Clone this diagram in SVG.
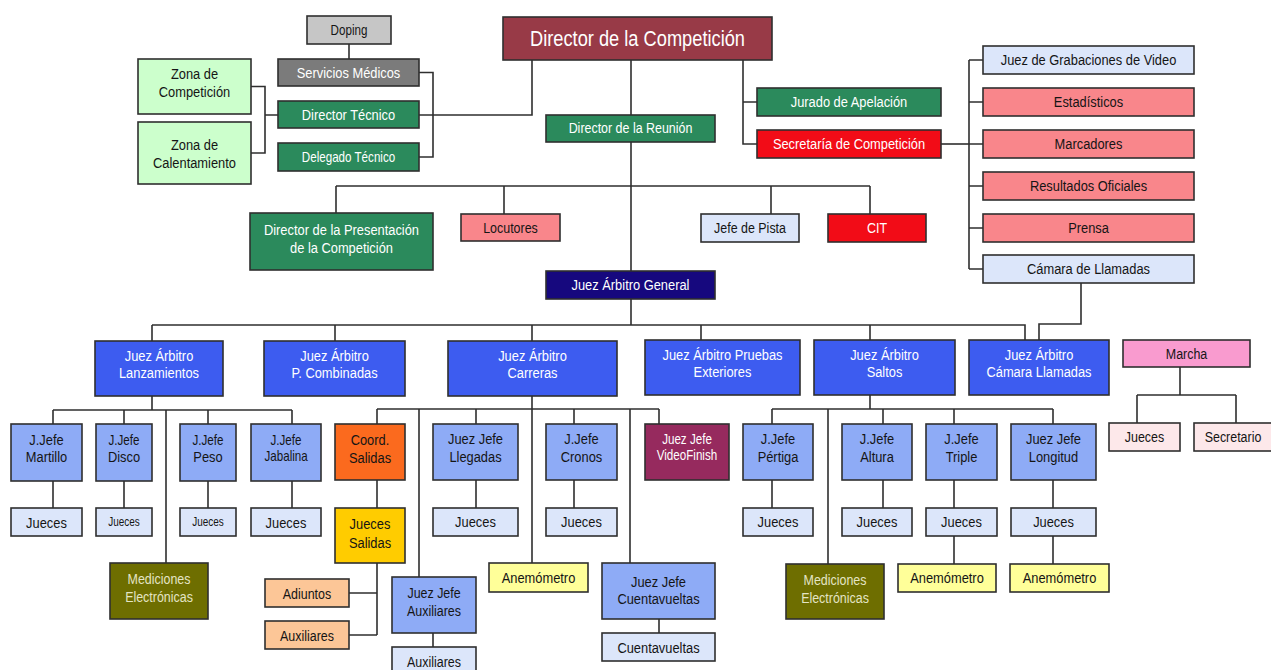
<svg xmlns="http://www.w3.org/2000/svg" width="1271" height="670" viewBox="0 0 1271 670">
<style>
  rect { stroke: #2f2f2f; stroke-width: 1.6; }
  rect.bg { stroke: none; fill: #ffffff; }
  text { font-family: "Liberation Sans", Arial, sans-serif; font-size: 15.5px; text-anchor: middle; dominant-baseline: central; fill: #151515; transform-box: fill-box; transform-origin: center; transform: scaleX(0.83); }
  .w { fill: #ffffff; }
  .lt { fill: #e4e4c4; }
  .s15 { font-size: 15px; }
  .s14 { font-size: 14px; }
  .s12 { font-size: 12px; }
  .big { font-size: 22px; }
  .gray { fill: #c6c6c6; }
  .dgray { fill: #7b7b7b; }
  .green { fill: #2b8a5c; }
  .lgreen { fill: #ccffcc; }
  .dred { fill: #983a47; }
  .red { fill: #f20c17; }
  .salmon { fill: #f9868b; }
  .lblue { fill: #dce6fa; }
  .navy { fill: #16087e; }
  .blue { fill: #3d5cf0; }
  .mblue { fill: #8eabf6; }
  .orange { fill: #fb6a1e; }
  .gold { fill: #ffcc00; }
  .lorange { fill: #fcc697; }
  .olive { fill: #6e6e00; }
  .yellow { fill: #ffff99; }
  .maroon { fill: #962a5e; }
  .pink { fill: #f99bcf; }
  .lpink { fill: #fde8ea; }
  #connectors path { fill: none; stroke: #2f2f2f; stroke-width: 1.6; }
</style>
<rect class="bg" x="0" y="0" width="1271" height="670"/>

<g id="connectors">
  <path d="M349,44 V59"/>
  <path d="M532,60 V115 H419"/>
  <path d="M419,72.5 H433 V157 H419"/>
  <path d="M251,86.5 H265 V153 H251 M265,115 H278"/>
  <path d="M631,60 V115 M631,142 V271 M631,299 V325"/>
  <path d="M743,60 V144 H757 M743,102 H757"/>
  <path d="M941,144 H969"/>
  <path d="M969,60 V269 M969,60 H983 M969,102 H983 M969,144 H983 M969,186 H983 M969,228 H983 M969,269 H983"/>
  <path d="M336,186 H870 M336,186 V213 M504,186 V214 M771,186 V214 M870,186 V214"/>
  <path d="M152,325 H1025 V340 M152,325 V341 M335,325 V341 M532,325 V341 M701,325 V340 M870,325 V340"/>
  <path d="M1081,283 V324 H1039 V340"/>
  <path d="M152,396 V410 M53,410 H292 M53,410 V424 M124,410 V424 M208,410 V424 M292,410 V424 M166,410 V563"/>
  <path d="M53,481 V508 M124,481 V508 M208,481 V508 M292,481 V508"/>
  <path d="M532,396 V563 M377,409 H659 M377,409 V424 M419,409 V577 M476,409 V424 M574,409 V424 M630,409 V563 M659,409 V424"/>
  <path d="M377,480 V508 M377,563 V635 M349,593 H377 M349,635 H377"/>
  <path d="M476,480 V508 M574,480 V508 M433,633 V647 M659,619 V633"/>
  <path d="M870,395 V409 M772,409 H1053 M772,409 V424 M828,409 V564 M883,409 V424 M954,409 V424 M1053,409 V424"/>
  <path d="M772,480 V508 M883,480 V508 M954,480 V508 M954,536 V564 M1053,480 V508 M1053,536 V564"/>
  <path d="M1180,367 V395 M1137,395 H1236 M1137,395 V423 M1236,395 V423"/>
</g>

<g id="doping"><rect class="gray" x="307" y="16" width="84" height="28"/><text x="349" y="30" class="s14">Doping</text></g>
<g id="servicios-medicos"><rect class="dgray" x="278" y="59" width="141" height="27"/><text class="w" x="348.5" y="72.5">Servicios Médicos</text></g>
<g id="director-tecnico"><rect class="green" x="278" y="101" width="141" height="27"/><text class="w" x="348.5" y="115">Director Técnico</text></g>
<g id="delegado-tecnico"><rect class="green" x="278" y="143" width="141" height="28"/><text class="w s14" x="348.5" y="157">Delegado Técnico</text></g>
<g id="zona-competicion"><rect class="lgreen" x="138" y="59" width="113" height="55"/><text x="194.5" y="74">Zona de</text><text x="194.5" y="92">Competición</text></g>
<g id="zona-calentamiento"><rect class="lgreen" x="138" y="122" width="113" height="62"/><text x="194.5" y="145">Zona de</text><text x="194.5" y="163">Calentamiento</text></g>
<g id="director-competicion"><rect class="dred" x="503" y="17" width="269" height="43"/><text class="w big" x="637.5" y="38.5">Director de la Competición</text></g>
<g id="director-reunion"><rect class="green" x="546" y="115" width="169" height="27"/><text class="w s15" x="630.5" y="128.5">Director de la Reunión</text></g>
<g id="jurado-apelacion"><rect class="green" x="757" y="88" width="184" height="28"/><text class="w" x="849" y="102">Jurado de Apelación</text></g>
<g id="secretaria"><rect class="red" x="757" y="130" width="184" height="28"/><text class="w" x="849" y="144">Secretaría de Competición</text></g>

<g id="juez-grabaciones"><rect class="lblue" x="983" y="46" width="211" height="28"/><text x="1088.5" y="60">Juez de Grabaciones de Video</text></g>
<g id="estadisticos"><rect class="salmon" x="983" y="88" width="211" height="28"/><text x="1088.5" y="102">Estadísticos</text></g>
<g id="marcadores"><rect class="salmon" x="983" y="130" width="211" height="28"/><text x="1088.5" y="144">Marcadores</text></g>
<g id="resultados"><rect class="salmon" x="983" y="172" width="211" height="28"/><text x="1088.5" y="186">Resultados Oficiales</text></g>
<g id="prensa"><rect class="salmon" x="983" y="214" width="211" height="28"/><text x="1088.5" y="228">Prensa</text></g>
<g id="camara-llamadas"><rect class="lblue" x="983" y="255" width="211" height="28"/><text x="1088.5" y="269">Cámara de Llamadas</text></g>

<g id="director-presentacion"><rect class="green" x="250" y="213" width="183" height="57"/><text class="w" x="341.5" y="230">Director de la Presentación</text><text class="w" x="341.5" y="248">de la Competición</text></g>
<g id="locutores"><rect class="salmon" x="461" y="214" width="99" height="27"/><text class="s15" x="510.5" y="228">Locutores</text></g>
<g id="jefe-pista"><rect class="lblue" x="701" y="214" width="98" height="28"/><text class="s15" x="750" y="228">Jefe de Pista</text></g>
<g id="cit"><rect class="red" x="828" y="214" width="98" height="28"/><text class="w s15" x="877" y="228">CIT</text></g>
<g id="juez-arbitro-general"><rect class="navy" x="546" y="271" width="169" height="28"/><text class="w" x="630.5" y="285">Juez Árbitro General</text></g>

<g id="ja-lanzamientos"><rect class="blue" x="95" y="341" width="128" height="55"/><text class="w" x="159" y="356">Juez Árbitro</text><text class="w" x="159" y="373">Lanzamientos</text></g>
<g id="ja-combinadas"><rect class="blue" x="264" y="341" width="141" height="55"/><text class="w" x="334.5" y="356">Juez Árbitro</text><text class="w" x="334.5" y="373">P. Combinadas</text></g>
<g id="ja-carreras"><rect class="blue" x="448" y="341" width="169" height="55"/><text class="w" x="532.5" y="356">Juez Árbitro</text><text class="w" x="532.5" y="373">Carreras</text></g>
<g id="ja-exteriores"><rect class="blue" x="645" y="340" width="155" height="55"/><text class="w" x="722.5" y="355">Juez Árbitro Pruebas</text><text class="w" x="722.5" y="372">Exteriores</text></g>
<g id="ja-saltos"><rect class="blue" x="814" y="340" width="141" height="55"/><text class="w" x="884.5" y="355">Juez Árbitro</text><text class="w" x="884.5" y="372">Saltos</text></g>
<g id="ja-camara"><rect class="blue" x="969" y="340" width="140" height="55"/><text class="w" x="1039" y="355">Juez Árbitro</text><text class="w" x="1039" y="372">Cámara Llamadas</text></g>
<g id="marcha"><rect class="pink" x="1123" y="340" width="127" height="27"/><text class="s15" x="1186.5" y="354">Marcha</text></g>
<g id="marcha-jueces"><rect class="lpink" x="1109" y="423" width="71" height="28"/><text class="s15" x="1144.5" y="437">Jueces</text></g>
<g id="marcha-secretario"><rect class="lpink" x="1194" y="423" width="82" height="28"/><text class="s15" x="1233" y="437">Secretario</text></g>

<g id="jj-martillo"><rect class="mblue" x="11" y="424" width="71" height="57"/><text x="46.5" y="440">J.Jefe</text><text x="46.5" y="457">Martillo</text></g>
<g id="jj-disco"><rect class="mblue" x="96" y="424" width="56" height="57"/><text x="124" y="440" class="s14">J.Jefe</text><text x="124" y="457">Disco</text></g>
<g id="jj-peso"><rect class="mblue" x="180" y="424" width="56" height="57"/><text x="208" y="440" class="s14">J.Jefe</text><text x="208" y="457">Peso</text></g>
<g id="jj-jabalina"><rect class="mblue" x="251" y="424" width="70" height="57"/><text x="286" y="440" class="s14">J.Jefe</text><text x="286" y="456" class="s14">Jabalina</text></g>
<g id="coord-salidas"><rect class="orange" x="335" y="424" width="70" height="56"/><text x="370" y="440">Coord.</text><text x="370" y="458">Salidas</text></g>
<g id="jj-llegadas"><rect class="mblue" x="433" y="424" width="85" height="56"/><text x="475.5" y="439">Juez Jefe</text><text x="475.5" y="457">Llegadas</text></g>
<g id="jj-cronos"><rect class="mblue" x="546" y="424" width="71" height="56"/><text x="581.5" y="439">J.Jefe</text><text x="581.5" y="457">Cronos</text></g>
<g id="jj-videofinish"><rect class="maroon" x="645" y="424" width="84" height="56"/><text class="w s14" x="687" y="439">Juez Jefe</text><text class="w s14" x="687" y="455">VideoFinish</text></g>
<g id="jj-pertiga"><rect class="mblue" x="743" y="424" width="70" height="56"/><text x="778" y="439">J.Jefe</text><text x="778" y="457">Pértiga</text></g>
<g id="jj-altura"><rect class="mblue" x="842" y="424" width="70" height="56"/><text x="877" y="439">J.Jefe</text><text x="877" y="457">Altura</text></g>
<g id="jj-triple"><rect class="mblue" x="926" y="424" width="71" height="56"/><text x="961.5" y="439">J.Jefe</text><text x="961.5" y="457">Triple</text></g>
<g id="jj-longitud"><rect class="mblue" x="1011" y="424" width="85" height="56"/><text x="1053.5" y="439">Juez Jefe</text><text x="1053.5" y="457">Longitud</text></g>

<g id="jueces-martillo"><rect class="lblue" x="11" y="508" width="71" height="28"/><text x="46.5" y="523">Jueces</text></g>
<g id="jueces-disco"><rect class="lblue" x="96" y="508" width="56" height="28"/><text class="s12" x="124" y="522">Jueces</text></g>
<g id="jueces-peso"><rect class="lblue" x="180" y="508" width="56" height="28"/><text class="s12" x="208" y="522">Jueces</text></g>
<g id="jueces-jabalina"><rect class="lblue" x="251" y="508" width="70" height="28"/><text x="286" y="523">Jueces</text></g>
<g id="jueces-salidas"><rect class="gold" x="335" y="508" width="70" height="55"/><text x="370" y="524">Jueces</text><text x="370" y="543">Salidas</text></g>
<g id="jueces-llegadas"><rect class="lblue" x="433" y="508" width="85" height="28"/><text x="475.5" y="522">Jueces</text></g>
<g id="jueces-cronos"><rect class="lblue" x="546" y="508" width="71" height="28"/><text x="581.5" y="522">Jueces</text></g>
<g id="jueces-pertiga"><rect class="lblue" x="743" y="508" width="70" height="28"/><text x="778" y="522">Jueces</text></g>
<g id="jueces-altura"><rect class="lblue" x="842" y="508" width="70" height="28"/><text x="877" y="522">Jueces</text></g>
<g id="jueces-triple"><rect class="lblue" x="926" y="508" width="71" height="28"/><text x="961.5" y="522">Jueces</text></g>
<g id="jueces-longitud"><rect class="lblue" x="1011" y="508" width="85" height="28"/><text x="1053.5" y="522">Jueces</text></g>

<g id="mediciones-1"><rect class="olive" x="110" y="563" width="98" height="56"/><text class="lt s15" x="159" y="579">Mediciones</text><text class="lt s15" x="159" y="597">Electrónicas</text></g>
<g id="adiuntos"><rect class="lorange" x="265" y="579" width="84" height="28"/><text class="s15" x="307" y="594">Adiuntos</text></g>
<g id="auxiliares-1"><rect class="lorange" x="265" y="621" width="84" height="28"/><text class="s15" x="307" y="636">Auxiliares</text></g>
<g id="jj-auxiliares"><rect class="mblue" x="392" y="577" width="84" height="56"/><text class="s15" x="434" y="593">Juez Jefe</text><text class="s15" x="434" y="611">Auxiliares</text></g>
<g id="auxiliares-2"><rect class="lblue" x="392" y="647" width="84" height="30"/><text class="s15" x="434" y="662">Auxiliares</text></g>
<g id="anemometro-1"><rect class="yellow" x="489" y="563" width="99" height="29"/><text x="538.5" y="578">Anemómetro</text></g>
<g id="jj-cuentavueltas"><rect class="mblue" x="602" y="563" width="113" height="56"/><text x="658.5" y="582">Juez Jefe</text><text x="658.5" y="599">Cuentavueltas</text></g>
<g id="cuentavueltas"><rect class="lblue" x="602" y="633" width="113" height="28"/><text x="658.5" y="648">Cuentavueltas</text></g>
<g id="mediciones-2"><rect class="olive" x="786" y="564" width="98" height="55"/><text class="lt s15" x="835" y="580">Mediciones</text><text class="lt s15" x="835" y="598">Electrónicas</text></g>
<g id="anemometro-2"><rect class="yellow" x="898" y="564" width="98" height="28"/><text x="947" y="578">Anemómetro</text></g>
<g id="anemometro-3"><rect class="yellow" x="1010" y="564" width="99" height="28"/><text x="1059.5" y="578">Anemómetro</text></g>
</svg>
